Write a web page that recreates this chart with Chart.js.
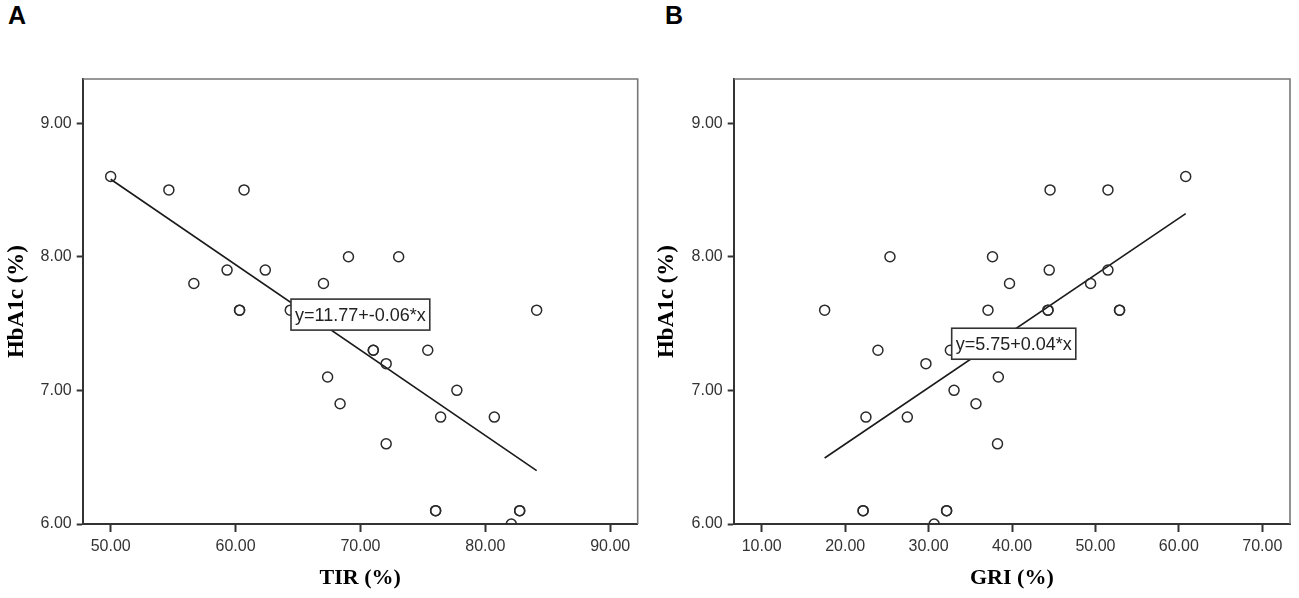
<!DOCTYPE html>
<html>
<head>
<meta charset="utf-8">
<script src="https://cdn.jsdelivr.net/npm/chart.js@4.4.1/dist/chart.umd.min.js"></script>
<style>
  html, body { margin: 0; padding: 0; background: #fff; }
  body { width: 1299px; height: 598px; position: relative; overflow: hidden; }
  canvas { position: absolute; top: 0; }
  .panel-letter { position: absolute; top: 3px; font: bold 25px "Liberation Sans", Arial, sans-serif; line-height: 25px; color: #000; }
</style>
</head>
<body>
<div class="panel-letter" style="left:8px">A</div>
<div class="panel-letter" style="left:665px">B</div>
<canvas id="chartA" width="650" height="598" style="left:0;width:650px;height:598px"></canvas>
<canvas id="chartB" width="649" height="598" style="left:650px;width:649px;height:598px"></canvas>
<script>
// ---------- Panel A: TIR vs HbA1c ----------
const tirA   = [50.0, 54.66, 60.68, 56.66, 59.32, 62.38, 60.32, 60.32, 64.38, 67.04, 69.04, 73.06,
                71.03, 71.03, 72.06, 75.39, 67.37, 68.37, 77.72, 76.42, 80.72, 72.06, 84.11,
                76.02, 76.02, 82.75, 82.75, 82.08];
const hba1cA = [8.60, 8.50, 8.50, 7.80, 7.90, 7.90, 7.60, 7.60, 7.60, 7.80, 8.00, 8.00,
                7.30, 7.30, 7.20, 7.30, 7.10, 6.90, 7.00, 6.80, 6.80, 6.60, 7.60,
                6.10, 6.10, 6.10, 6.10, 6.00];
const fitLineAX = [50.0, 84.11];
const fitLineAY = [8.58, 6.40];
const fitLabelA = "y=11.77+-0.06*x";
const xTicksA = [50, 60, 70, 80, 90];

// ---------- Panel B: GRI vs HbA1c ----------
const griB   = [60.82, 44.56, 51.50, 25.37, 37.66, 44.46, 51.50, 39.70, 49.42, 17.54, 37.12,
                44.31, 44.31, 52.89, 52.89, 23.93, 32.61, 29.68, 38.36, 33.05, 35.68, 22.49,
                27.45, 38.26, 22.15, 22.15, 32.16, 32.16, 30.67];
const hba1cB = [8.60, 8.50, 8.50, 8.00, 8.00, 7.90, 7.90, 7.80, 7.80, 7.60, 7.60,
                7.60, 7.60, 7.60, 7.60, 7.30, 7.30, 7.20, 7.10, 7.00, 6.90, 6.80,
                6.80, 6.60, 6.10, 6.10, 6.10, 6.10, 6.00];
const fitLineBX = [17.54, 60.82];
const fitLineBY = [6.494, 8.323];
const fitLabelB = "y=5.75+0.04*x";
const xTicksB = [10, 20, 30, 40, 50, 60, 70];

const yTicks = [6, 7, 8, 9];

function pts(xs, ys) { return xs.map((x, i) => ({ x: x, y: ys[i] })); }

const framePlugin = {
  id: 'frame',
  afterDraw(chart) {
    const { ctx, chartArea: a } = chart;
    ctx.save();
    ctx.strokeStyle = '#777';
    ctx.lineWidth = 1.6;
    ctx.beginPath();
    ctx.moveTo(a.left, a.top);
    ctx.lineTo(a.right, a.top);
    ctx.lineTo(a.right, a.bottom);
    ctx.stroke();
    ctx.restore();
  }
};

const fitLabelPlugin = {
  id: 'fitLabel',
  afterDatasetsDraw(chart, args, opts) {
    const { ctx, scales } = chart;
    const left = scales.x.getPixelForValue(opts.x);
    const cy = scales.y.getPixelForValue(opts.y);
    ctx.save();
    ctx.font = '18px "Liberation Sans", Arial, sans-serif';
    const w = ctx.measureText(opts.text).width + 8;
    const h = 31;
    ctx.fillStyle = '#fff';
    ctx.fillRect(left, cy - h / 2, w, h);
    ctx.strokeStyle = '#333';
    ctx.lineWidth = 1.6;
    ctx.strokeRect(left, cy - h / 2, w, h);
    ctx.fillStyle = '#222';
    ctx.textBaseline = 'middle';
    ctx.textAlign = 'left';
    ctx.fillText(opts.text, left + 4, cy + 1);
    ctx.restore();
  }
};

function makeChart(id, cfg) {
  return new Chart(document.getElementById(id), {
    type: 'scatter',
    data: {
      datasets: [
        {
          data: pts(cfg.xs, cfg.ys),
          pointRadius: 5,
          pointBorderWidth: 1.5,
          pointBorderColor: '#2a2a2a',
          pointBackgroundColor: 'rgba(0,0,0,0)',
          clip: 0
        },
        {
          data: pts(cfg.lx, cfg.ly),
          showLine: true,
          pointRadius: 0,
          borderColor: '#1a1a1a',
          borderWidth: 1.6,
          clip: 0
        }
      ]
    },
    options: {
      responsive: false,
      animation: false,
      events: [],
      layout: { padding: { top: 79, right: cfg.padRight, left: 0, bottom: 0 } },
      plugins: {
        legend: { display: false },
        tooltip: { enabled: false },
        fitLabel: { text: cfg.label, x: cfg.labelX, y: cfg.labelY }
      },
      scales: {
        x: {
          type: 'linear',
          min: cfg.xmin, max: cfg.xmax,
          afterBuildTicks: s => { s.ticks = cfg.xTicks.map(v => ({ value: v })); },
          afterFit: s => { s.height = 74; },
          grid: { drawOnChartArea: false, drawTicks: true, tickLength: 8, tickWidth: 2, tickColor: '#333' },
          border: { display: true, color: '#333', width: 2 },
          ticks: {
            padding: 5,
            color: '#333',
            font: { family: '"Liberation Sans", Arial, sans-serif', size: 16 },
            callback: v => Number(v).toFixed(2)
          },
          title: {
            display: true,
            text: cfg.xTitle,
            color: '#000',
            font: { family: '"Liberation Serif", "Times New Roman", serif', size: 22, weight: 'bold' },
            padding: { top: 0, bottom: 6 }
          }
        },
        y: {
          type: 'linear',
          min: 6, max: 9.33,
          afterBuildTicks: s => { s.ticks = yTicks.map(v => ({ value: v })); },
          afterFit: s => { s.width = cfg.yWidth; },
          grid: { drawOnChartArea: false, drawTicks: true, tickLength: 6, tickWidth: 2, tickColor: '#333' },
          border: { display: true, color: '#333', width: 2 },
          ticks: {
            padding: 5,
            color: '#333',
            font: { family: '"Liberation Sans", Arial, sans-serif', size: 16 },
            callback: v => Number(v).toFixed(2)
          },
          title: {
            display: true,
            text: 'HbA1c (%)',
            color: '#000',
            font: { family: '"Liberation Serif", "Times New Roman", serif', size: 23, weight: 'bold' },
            padding: { top: 3, bottom: 0 }
          }
        }
      }
    },
    plugins: [framePlugin, fitLabelPlugin]
  });
}

makeChart('chartA', {
  xs: tirA, ys: hba1cA, lx: fitLineAX, ly: fitLineAY,
  xmin: 47.76, xmax: 92.2, xTicks: xTicksA, xTitle: 'TIR (%)',
  yWidth: 82.7, padRight: 12.3,
  label: fitLabelA, labelX: 64.44, labelY: 7.567
});
makeChart('chartB', {
  xs: griB, ys: hba1cB, lx: fitLineBX, ly: fitLineBY,
  xmin: 6.64, xmax: 73.32, xTicks: xTicksB, xTitle: 'GRI (%)',
  yWidth: 83.7, padRight: 9,
  label: fitLabelB, labelX: 32.77, labelY: 7.349
});
</script>
</body>
</html>
